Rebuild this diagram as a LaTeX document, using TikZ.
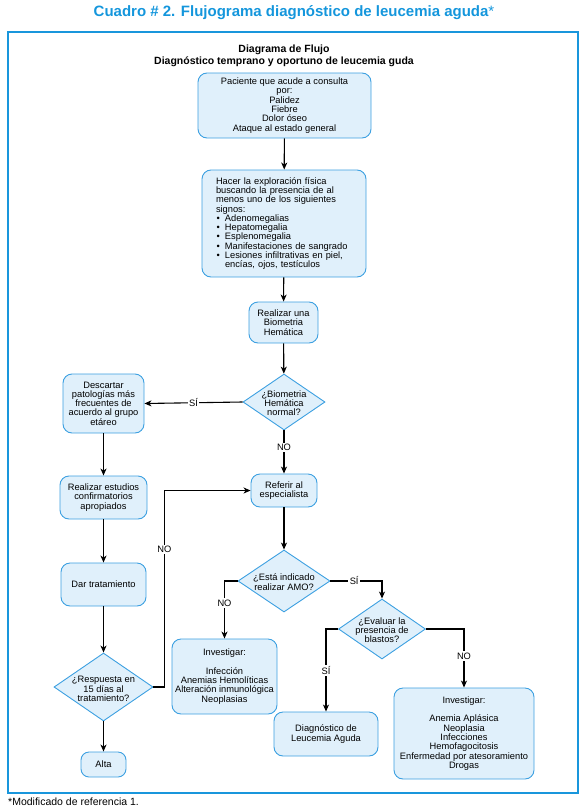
\documentclass[tikz,border=0pt]{standalone}
\usepackage{fontspec}
\setmainfont{Liberation Sans}
\usetikzlibrary{shapes.geometric,arrows.meta}
\definecolor{boxblue}{RGB}{60,160,225}
\definecolor{boxfill}{RGB}{224,240,251}
\definecolor{frameblue}{RGB}{25,150,220}
\definecolor{titleblue}{RGB}{20,150,220}
\newcommand{\bodyfont}{\fontsize{9.3}{9.3}\selectfont}
\newcommand{\mybul}{\makebox[9pt][l]{\hspace{0.5pt}•}}
\newcommand{\myind}{\makebox[9pt][l]{}}
\tikzset{
  box/.style={draw=boxblue, fill=boxfill, rounded corners=9pt, line width=0.9pt, inner sep=0pt, align=center, font=\bodyfont},
  dia/.style={draw=boxblue, fill=boxfill, diamond, inner sep=0pt, line width=0.9pt},
  txt/.style={align=center, font=\bodyfont, inner sep=0pt},
  arr/.style={draw=black, line width=1.1pt, -{Stealth[length=7pt,width=6pt,inset=2pt]}},
  plain/.style={draw=black, line width=1.1pt},
  lbl/.style={fill=white, font=\bodyfont, inner sep=1.5pt},
}
\begin{document}
\begin{tikzpicture}[x=1pt,y=-1pt]
\useasboundingbox (0,0) rectangle (586,808);
% title
\node[font=\bfseries\fontsize{15}{15}\selectfont, text=titleblue, inner sep=0pt] (title) at (294,13) {Cuadro \# 2. Flujograma diagnóstico de leucemia aguda{\mdseries*}};
% frame
\draw[frameblue, line width=1.3pt] (8,32) rectangle (578,793);
\node[font=\fontsize{10.5}{12}\selectfont\bfseries, align=center, inner sep=0pt] (head) at (284,56) {Diagrama de Flujo\\Diagnóstico temprano y oportuno de leucemia guda};
% boxes
\node[box, minimum width=173pt, minimum height=65pt] (b1) at (284.5,105.5) {Paciente que acude a consulta\\por:\\Palidez\\Fiebre\\Dolor óseo\\Ataque al estado general};
\node[box, minimum width=164pt, minimum height=107pt, text width=136pt, align=left] (b2) at (284,223.5) {Hacer la exploración física\\buscando la presencia de al\\menos uno de los siguientes\\signos:\\\mybul Adenomegalias\\\mybul Hepatomegalia\\\mybul Esplenomegalia\\\mybul Manifestaciones de sangrado\\\mybul Lesiones infiltrativas en piel,\\\myind encías, ojos, testículos};
\node[box, minimum width=69pt, minimum height=41pt] (b3) at (283.5,322.5) {Realizar una\\Biometria\\Hemática};
\node[dia, minimum width=82pt, minimum height=56pt] (d1) at (284,402) {};
\node[txt] (d1t) at (284,403) {¿Biometria\\Hemática\\normal?};
\node[box, minimum width=81pt, minimum height=59pt] (bdesc) at (103.5,403.5) {Descartar\\patologías más\\frecuentes de\\acuerdo al grupo\\etáreo};
\node[box, minimum width=87pt, minimum height=43pt] (best) at (103.5,497.5) {Realizar estudios\\confirmatorios\\apropiados};
\node[box, minimum width=85pt, minimum height=43pt] (bdar) at (103.5,584.5) {Dar tratamiento};
\node[dia, minimum width=99pt, minimum height=68pt] (d4) at (103.5,687) {};
\node[txt] (d4t) at (103.5,689) {¿Respuesta en\\15 días al\\tratamiento?};
\node[box, rounded corners=8pt, minimum width=45pt, minimum height=25pt] (balta) at (103.5,764.5) {Alta};
\node[box, minimum width=66pt, minimum height=33pt] (bref) at (284,490.5) {Referir al\\especialista};
\node[dia, minimum width=92pt, minimum height=62pt] (d2) at (284,581) {};
\node[txt] (d2t) at (284,582) {¿Está indicado\\realizar AMO?};
\node[dia, minimum width=87pt, minimum height=60pt] (d3) at (382,629) {};
\node[txt] (d3t) at (382,630) {¿Evaluar la\\presencia de\\blastos?};
\node[box, minimum width=105pt, minimum height=75pt] (binv1) at (224.5,676.5) {Investigar:\\[9.3pt]Infección\\Anemias Hemolíticas\\Alteración inmunológica\\Neoplasias};
\node[box, minimum width=104pt, minimum height=44pt] (bdiag) at (326,734) {Diagnóstico de\\Leucemia Aguda};
\node[box, minimum width=140pt, minimum height=91pt] (binv2) at (464,733.5) {Investigar:\\[9.3pt]Anemia Aplásica\\Neoplasia\\Infecciones\\Hemofagocitosis\\Enfermedad por atesoramiento\\Drogas};
% connectors
\draw[arr] (b1) -- (b2);
\draw[arr] (b2) -- (b3);
\draw[arr] (b3) -- (d1);
\draw[arr] (d1.west) -- node[lbl, pos=0.5] (l1) {SÍ} (bdesc.east);
\draw[arr] (d1.south) -- node[lbl, pos=0.4] (l2) {NO} (bref.north);
\draw[arr] (bdesc) -- (best);
\draw[arr] (best) -- (bdar);
\draw[arr] (bdar) -- (d4.north);
\draw[arr] (d4.south) -- (balta);
\draw[arr] (d4.east) -- ++(11,0) |- node[lbl, pos=0.35] (l3) {NO} (bref.west);
\draw[arr] (bref) -- (d2.north);
\draw[arr] (d2.west) -| node[lbl, pos=0.69] (l4) {NO} (binv1.north);
\draw[arr] (d2.east) -| node[lbl, pos=0.23] (l5) {SÍ} (d3.north);
\draw[arr] (d3.west) -| node[lbl, pos=0.75] (l6) {SÍ} (bdiag.north);
\draw[arr] (d3.east) -| node[lbl, pos=0.73] (l7) {NO} (binv2.north);
% footer
\node[anchor=west, font=\fontsize{10.5}{12}\selectfont, inner sep=0pt] (foot) at (8,802) {*Modificado de referencia 1.};
\end{tikzpicture}
\end{document}
